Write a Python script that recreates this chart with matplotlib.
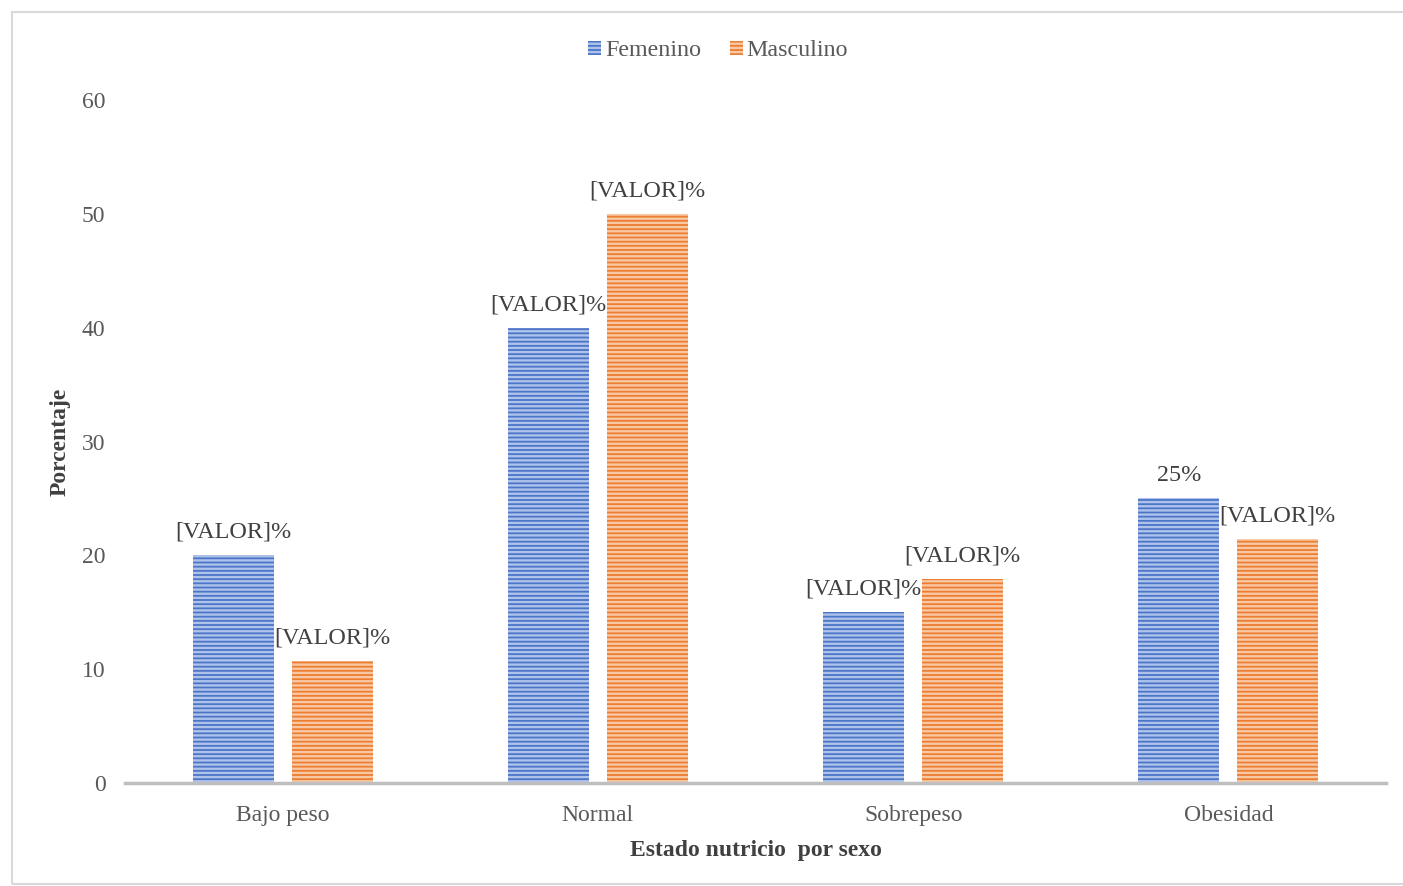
import matplotlib
matplotlib.use('Agg')
import matplotlib.pyplot as plt
import numpy as np
from matplotlib.patches import Patch, Rectangle

# Nutritional status by sex (percent)
categories = ['Bajo peso', 'Normal', 'Sobrepeso', 'Obesidad']
femenino = [20, 40, 15, 25]
masculino = [10.7, 50, 17.9, 21.4]
labels_fem = ['[VALOR]%', '[VALOR]%', '[VALOR]%', '25%']
labels_masc = ['[VALOR]%', '[VALOR]%', '[VALOR]%', '[VALOR]%']
y_ticks = [0, 10, 20, 30, 40, 50, 60]

BLUE = '#4A75C8'
BLUE_LIGHT = '#AFC2EA'
ORANGE = '#ED7D31'
ORANGE_LIGHT = '#F8C8A4'
TEXT = '#404040'
TICK = '#595959'

plt.rcParams['font.family'] = ['Liberation Serif', 'DejaVu Serif']
plt.rcParams['hatch.linewidth'] = 1.7

W, H = 1403, 886
fig = plt.figure(figsize=(W / 100, H / 100), dpi=100)

# light frame round the chart area
fig.patches.append(Rectangle((12 / W, 2 / H), 1.2, (884 - 12) / H, transform=fig.transFigure,
                             facecolor='none', edgecolor='#D9D9D9', lw=1.5))

ax = fig.add_axes([125 / W, (H - 783) / H, 1261 / W, 683 / H])
x = np.arange(len(categories))
width = 0.257
offset = 0.157

bars_f = ax.bar(x - offset, femenino, width, facecolor=BLUE, edgecolor=BLUE_LIGHT,
                hatch='----', linewidth=0, zorder=2)
bars_m = ax.bar(x + offset, masculino, width, facecolor=ORANGE, edgecolor=ORANGE_LIGHT,
                hatch='----', linewidth=0, zorder=2)

for bars, labels in ((bars_f, labels_fem), (bars_m, labels_masc)):
    for bar, lab in zip(bars, labels):
        ax.annotate(lab, (bar.get_x() + bar.get_width() / 2, bar.get_height()),
                    xytext=(0, 23), textcoords='offset pixels',
                    ha='center', va='center', fontsize=17.4, color=TEXT)

ax.set_xlim(-0.5, 3.5)
ax.set_ylim(0, 60)
ax.set_yticks(y_ticks)
ax.set_xticks(x)
ax.set_xticklabels(categories)
ax.tick_params(axis='both', length=0, labelsize=17, labelcolor=TICK)
ax.tick_params(axis='y', pad=14)
ax.tick_params(axis='x', pad=16)
for side in ('top', 'right', 'left'):
    ax.spines[side].set_visible(False)
ax.spines['bottom'].set_color('#BFBFBF')
ax.spines['bottom'].set_linewidth(2.5)

ax.set_xlabel('Estado nutricio  por sexo', fontsize=17, fontweight='bold', color=TEXT, labelpad=10)
ax.set_ylabel('Porcentaje', fontsize=17, fontweight='bold', color=TEXT, va='center')
ax.yaxis.set_label_coords(-0.0515, 0.5)

handles = [Patch(facecolor=BLUE, edgecolor=BLUE_LIGHT, hatch='----', linewidth=0, label='Femenino'),
           Patch(facecolor=ORANGE, edgecolor=ORANGE_LIGHT, hatch='----', linewidth=0, label='Masculino')]
fig.legend(handles=handles, loc='center', bbox_to_anchor=(718 / W, 1 - 51 / H), ncol=2,
           frameon=False, fontsize=17.3, handlelength=0.55, handleheight=0.55,
           handletextpad=0.15, columnspacing=1.2, labelcolor=TICK)

fig.savefig('out.png', dpi=100)
